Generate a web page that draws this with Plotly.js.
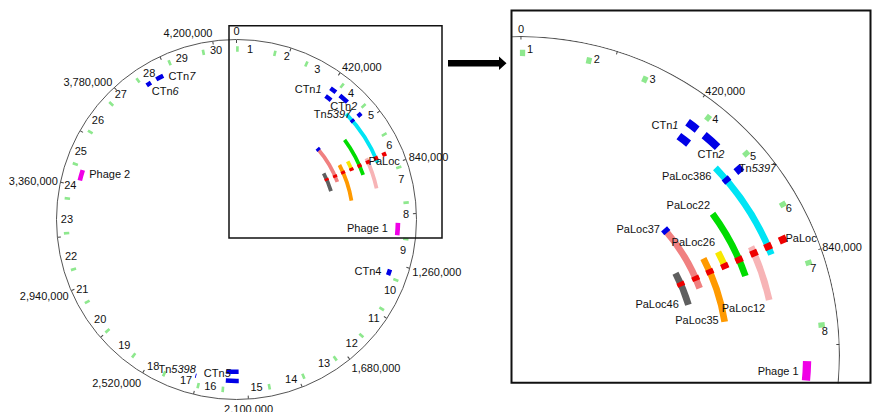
<!DOCTYPE html>
<html>
<head>
<meta charset="utf-8">
<script src="https://cdn.plot.ly/plotly-3.0.1.min.js"></script>
<style>
html,body{margin:0;padding:0;background:#fff;}
#chart{width:872px;height:412px;}
</style>
</head>
<body>
<div id="chart"></div>
<script>
// ---------------- DATA ----------------
const GENOME_LENGTH = 4290252;

const tickPositions = [0, 210000, 420000, 630000, 840000, 1050000, 1260000, 1470000, 1680000, 1890000,
  2100000, 2310000, 2520000, 2730000, 2940000, 3150000, 3360000, 3570000, 3780000, 3990000, 4200000];
const tickLabels = ['0', '', '420,000', '', '840,000', '', '1,260,000', '', '1,680,000', '',
  '2,100,000', '', '2,520,000', '', '2,940,000', '', '3,360,000', '', '3,780,000', '', '4,200,000'];

// numbered markers round the chromosome
const markerNumbers = [1, 2, 3, 4, 5, 6, 7, 8, 9, 10, 11, 12, 13, 14, 15,
  16, 17, 18, 19, 20, 21, 22, 23, 24, 25, 26, 27, 28, 29, 30];
const markerPositions = [3600, 154900, 288400, 456000, 574400, 716200, 860400, 1004600, 1151200, 1320400,
  1449200, 1583800, 1723300, 1869800, 2012800, 2199900, 2300000, 2444300, 2587300, 2731500,
  2873300, 3015100, 3162900, 3302400, 3444100, 3586000, 3726600, 3869600, 4014900, 4156800];

// strains, one ring each (outermost = reference genome)
const strains = ['630', '386', '12', '22', '26', '35', '37', '46'];

// PaLoc in each strain
const palocStrain = ['630', '386', '12', '22', '26', '35', '37', '46'];
const palocStart = [780000, 781200, 782400, 782400, 782400, 780000, 781200, 778800];
const palocEnd   = [797800, 799000, 800200, 800200, 800200, 797800, 799000, 796600];
const palocLabel = ['PaLoc', '', '', '', '', '', '', ''];

// aligned regions of the other strains
const arcStrain = ['386', '12', '22', '26', '35', '37', '46'];
const arcStart = [549400, 772300, 638800, 743700, 740100, 587500, 740100];
const arcEnd   = [811600, 923600, 841400, 797300, 961700, 828300, 873600];
const arcLabel = ['PaLoc386', 'PaLoc12', 'PaLoc22', 'PaLoc26', 'PaLoc35', 'PaLoc37', 'PaLoc46'];

// mobile elements
const elementStrain = ['630', '630', '630', '630', '630', '630', '630', '630', '386', '386', '386', '37'];
const elementStart = [424300, 474300, 582200, 1287700, 2135600, 2317300, 3887500, 3935100, 426600, 584000, 2135600, 579200];
const elementEnd   = [452900, 517200, 600000, 1312700, 2190400, 2320900, 3908900, 3968500, 457600, 598200, 2190400, 597100];
const elementLabel = ['CTn<i>1</i>', 'CTn<i>2</i>', 'Tn<i>5397</i>', 'CTn4', 'CTn<i>5</i>', 'Tn<i>5398</i>',
  'CTn<i>6</i>', 'CTn<i>7</i>', '', '', '', ''];

// prophages
const phageStrain = ['630', '630'];
const phageStart = [1086900, 3384500];
const phageEnd   = [1139300, 3429800];
const phageLabel = ['Phage 1', 'Phage 2'];

// ---------------- STYLE ----------------
const RING_RADIUS = {'630': 0.897, '386': 0.846, '12': 0.797, '22': 0.746, '26': 0.697, '35': 0.647, '37': 0.598, '46': 0.548};
const ARC_COLOR = {'386': '#00e4f4', '12': '#f7b4b6', '22': '#00dc00', '26': '#f8e800', '35': '#ff9a00', '37': '#f08080', '46': '#5f5f5f'};
const BLUE = '#0000e6', RED = '#ee0000', MAGENTA = '#f000e6', LIGHTGREEN = '#8ee88e';
const font = () => ({family: 'Liberation Sans, Arial, sans-serif', size: 11, color: '#111111'});
const ZOOM_SECTOR = [-5.1, 91.7];   // screen angles of the enlarged view

const deg = bp => bp / GENOME_LENGTH * 360;

function ringBars(subplot, starts, ends, strainOf, thickness, color) {
  return {
    type: 'barpolar', subplot: subplot,
    theta: starts.map((s, i) => deg((s + ends[i]) / 2)),
    width: starts.map((s, i) => deg(ends[i] - s)),
    r: starts.map(() => thickness),
    base: strainOf.map(s => RING_RADIUS[s] - thickness / 2),
    marker: {color: color, line: {width: 0}},
    hoverinfo: 'skip', showlegend: false
  };
}

const featureSets = {
  element: {start: elementStart, end: elementEnd, strain: elementStrain, label: elementLabel},
  paloc: {start: palocStart, end: palocEnd, strain: palocStrain, label: palocLabel},
  phage: {start: phageStart, end: phageEnd, strain: phageStrain, label: phageLabel},
  arc: {start: arcStart, end: arcEnd, strain: arcStrain, label: arcLabel}
};

// label placement per panel: [set, index, anchor, textposition, offset px]
const LEFT_LABELS = [
  ['element', 0, 'mid', 'middle left', 11.6],
  ['element', 1, 'mid', 'bottom center', 3.5],
  ['element', 2, 'mid', 'middle left', 8.3],
  ['paloc', 0, 'mid', 'bottom center', 2.7],
  ['phage', 0, 'mid', 'middle left', 9.7],
  ['phage', 1, 'mid', 'middle right', 8],
  ['element', 3, 'mid', 'middle left', 7.6],
  ['element', 4, 'mid', 'top left', 1.5],
  ['element', 5, 'mid', 'top left', 1],
  ['element', 6, 'mid', 'bottom right', 3],
  ['element', 7, 'mid', 'middle right', 8.7]
];
const RIGHT_LABELS = [
  ['element', 0, 'mid', 'middle left', 14],
  ['element', 1, 'mid', 'bottom center', 9],
  ['element', 2, 'mid', 'middle right', 1],
  ['paloc', 0, 'mid', 'middle right', 2.7],
  ['phage', 0, 'mid', 'middle left', 8],
  ['arc', 0, 'start', 'bottom left', 4],
  ['arc', 2, 'start', 'top left', 2.5],
  ['arc', 3, 'start', 'top left', 3],
  ['arc', 5, 'start', 'middle left', 5.7],
  ['arc', 6, 'end', 'middle left', 9.6],
  ['arc', 4, 'end', 'middle left', 6],
  ['arc', 1, 'end', 'bottom left', 4]
];

function labelTrace(subplot, placements, clip) {
  const th = [], rr = [], tx = [], tp = [], sz = [];
  placements.forEach(([set, i, anchor, pos, off]) => {
    const f = featureSets[set];
    const bp = anchor === 'start' ? f.start[i] : anchor === 'end' ? f.end[i] : (f.start[i] + f.end[i]) / 2;
    th.push(deg(bp)); rr.push(RING_RADIUS[f.strain[i]]);
    tx.push(f.label[i]); tp.push(pos); sz.push(Math.max(0, (off - 1) * 1.6));
  });
  return {
    type: 'scatterpolar', subplot: subplot, mode: 'markers+text',
    theta: th, r: rr, text: tx, textposition: tp,
    marker: {size: sz, opacity: 0, color: '#ffffff'}, textfont: font(),
    cliponaxis: clip, hoverinfo: 'skip', showlegend: false
  };
}

function panelTraces(subplot, opt) {
  const tr = [];
  if (opt.ring) {
    // the chromosome circle (the angular axis line of a sector would be a closed wedge)
    tr.push({
      type: 'barpolar', subplot: subplot, theta: [0], width: [360], base: [0.9965], r: [0.0035],
      marker: {color: '#555555', line: {width: 0}}, hoverinfo: 'skip', showlegend: false
    });
  }
  tr.push({
    type: 'barpolar', subplot: subplot,
    theta: markerPositions.map(deg),
    width: markerPositions.map(() => opt.markWidth),
    r: markerPositions.map(() => opt.markLen),
    base: markerPositions.map(() => opt.markR - opt.markLen / 2),
    marker: {color: LIGHTGREEN, line: {width: 0}}, hoverinfo: 'skip', showlegend: false
  });
  const shown = markerPositions.map((p, i) => i).filter(i => {
    const t = deg(markerPositions[i]) + opt.numShift;
    return t >= opt.thetaRange[0] && t <= opt.thetaRange[1];
  });
  tr.push({
    type: 'scatterpolar', subplot: subplot, mode: 'text',
    theta: shown.map(i => deg(markerPositions[i]) + opt.numShift),
    r: shown.map(() => opt.numR),
    text: shown.map(i => String(markerNumbers[i])), textfont: font(), textposition: 'middle center',
    cliponaxis: opt.clip, hoverinfo: 'skip', showlegend: false
  });
  tr.push(ringBars(subplot, arcStart, arcEnd, arcStrain, 0.021, arcStrain.map(s => ARC_COLOR[s])));
  tr.push(ringBars(subplot, phageStart, phageEnd, phageStrain, 0.026, MAGENTA));
  tr.push(ringBars(subplot, elementStart, elementEnd, elementStrain, 0.025, BLUE));
  tr.push(ringBars(subplot, palocStart, palocEnd, palocStrain, 0.024, RED));
  tr.push(labelTrace(subplot, opt.labels, opt.clip));
  return tr;
}

const traces = [].concat(
  panelTraces('polar', {ring: false, markWidth: 0.9, markLen: 0.03, markR: 0.947, numShift: 4.3, numR: 0.942,
    labels: LEFT_LABELS, clip: false, thetaRange: [-1, 361]}),
  panelTraces('polar2', {ring: true, markWidth: 1.0, markLen: 0.02, markR: 0.947, numShift: 1.4, numR: 0.955,
    labels: RIGHT_LABELS, clip: true, thetaRange: [90 - ZOOM_SECTOR[1], 90 - ZOOM_SECTOR[0]]})
);

function angular(showline) {
  return {
    type: 'linear', rotation: 90, direction: 'clockwise', thetaunit: 'degrees',
    tickmode: 'array', tickvals: tickPositions.map(deg), ticktext: tickLabels,
    ticks: 'inside', ticklen: 3, tickwidth: 1, tickcolor: '#444444',
    showline: showline, linecolor: '#555555', linewidth: 1, showgrid: false,
    tickfont: font()
  };
}
const radial = () => ({visible: false, range: [0, 1], showgrid: false, showline: false});

const P = (x, y) => (x / 872).toFixed(5) + ',' + ((412 - y) / 412).toFixed(5);
const arrowPath = 'M' + P(448, 60) + 'L' + P(499, 60) + 'L' + P(499, 56.5) + 'L' + P(506.5, 63.25) +
  'L' + P(499, 70) + 'L' + P(499, 66.5) + 'L' + P(448, 66.5) + 'Z';

const layout = {
  width: 872, height: 412,
  margin: {l: 0, r: 0, t: 0, b: 0, pad: 0},
  paper_bgcolor: '#ffffff',
  showlegend: false,
  font: font(),
  polar: {
    domain: {x: [0.06479, 0.47764], y: [0.03034, 0.90413]},
    bgcolor: 'rgba(0,0,0,0)', barmode: 'overlay',
    radialaxis: radial(), angularaxis: angular(true)
  },
  polar2: {
    domain: {x: [0.58658, 0.96330], y: [0.06942, 0.91262]},
    sector: ZOOM_SECTOR,
    bgcolor: 'rgba(0,0,0,0)', barmode: 'overlay',
    radialaxis: radial(), angularaxis: angular(false)
  },
  shapes: [
    {type: 'rect', xref: 'paper', yref: 'paper', x0: 229 / 872, x1: 442 / 872, y0: (412 - 238) / 412, y1: (412 - 25.7) / 412,
      line: {color: '#111111', width: 1.5}, fillcolor: 'rgba(0,0,0,0)'},
    {type: 'rect', xref: 'paper', yref: 'paper', x0: 511.5 / 872, x1: 870.5 / 872, y0: (412 - 382.7) / 412, y1: (412 - 10.5) / 412,
      line: {color: '#111111', width: 2}, fillcolor: 'rgba(0,0,0,0)'},
    {type: 'path', xref: 'paper', yref: 'paper', path: arrowPath, fillcolor: '#000000', line: {width: 0}}
  ]
};

Plotly.newPlot('chart', traces, layout, {staticPlot: true, displayModeBar: false});
</script>
</body>
</html>
